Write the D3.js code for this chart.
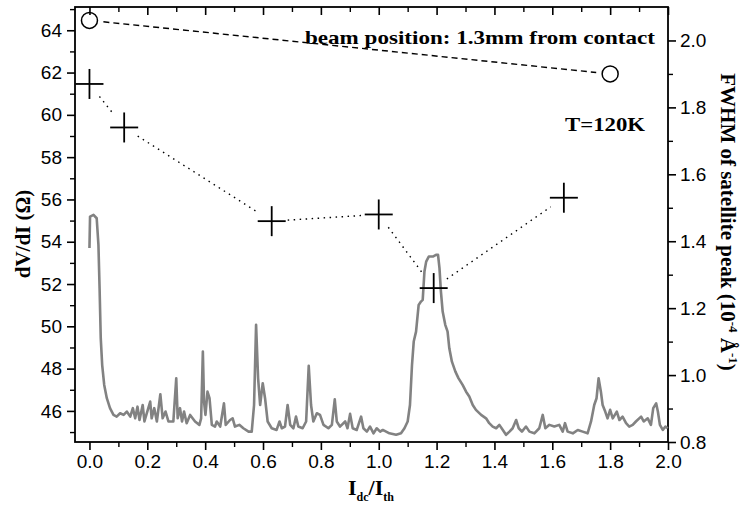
<!DOCTYPE html>
<html>
<head>
<meta charset="utf-8">
<script src="https://cdn.jsdelivr.net/npm/d3@7"></script>
<style>
  body { margin: 0; background: #fff; }
  svg { display: block; }
  .tick text { font-family: "Liberation Sans", Arial, sans-serif; font-size: 19px; fill: #000; }
  .title { font-family: "Liberation Serif", "Times New Roman", serif; font-weight: bold; fill: #000; }
</style>
</head>
<body>
<div id="chart"></div>
<script>
// dV/dI trace (Idc/Ith, ohm)
var traceX = [0.000, 0.002, 0.014, 0.025, 0.031, 0.035, 0.039, 0.044, 0.051, 0.060, 0.071, 0.083, 0.094,
  0.106, 0.118, 0.129, 0.141, 0.150, 0.158, 0.166, 0.173, 0.184, 0.190, 0.210, 0.215, 0.224, 0.233, 0.245,
  0.253, 0.263, 0.273, 0.290, 0.300, 0.305, 0.313, 0.320, 0.327, 0.336, 0.348, 0.365, 0.380, 0.386, 0.392,
  0.396, 0.401, 0.408, 0.415, 0.423, 0.434, 0.440, 0.452, 0.465, 0.471, 0.486, 0.495, 0.503, 0.518, 0.532,
  0.550, 0.561, 0.569, 0.576, 0.583, 0.590, 0.599, 0.607, 0.616, 0.630, 0.647, 0.657, 0.665, 0.676, 0.685,
  0.694, 0.705, 0.714, 0.722, 0.737, 0.749, 0.758, 0.766, 0.774, 0.786, 0.797, 0.809, 0.826, 0.838, 0.848,
  0.855, 0.866, 0.884, 0.892, 0.901, 0.910, 0.924, 0.939, 0.947, 0.959, 0.970, 0.982, 0.993, 1.005,
  1.014, 1.037, 1.060, 1.077, 1.089, 1.100, 1.108, 1.115, 1.121, 1.129, 1.138, 1.146, 1.152, 1.158, 1.164,
  1.173, 1.187, 1.198, 1.205, 1.210, 1.215, 1.221, 1.230, 1.238, 1.244, 1.253, 1.265, 1.276, 1.290, 1.302,
  1.313, 1.325, 1.336, 1.354, 1.371, 1.382, 1.394, 1.406, 1.417, 1.429, 1.440, 1.452, 1.463, 1.475, 1.484,
  1.495, 1.509, 1.521, 1.538, 1.555, 1.567, 1.576, 1.590, 1.607, 1.624, 1.636, 1.644, 1.653, 1.671, 1.688,
  1.705, 1.722, 1.734, 1.745, 1.753, 1.760, 1.768, 1.774, 1.783, 1.791, 1.800, 1.809, 1.823, 1.832, 1.843,
  1.855, 1.866, 1.878, 1.889, 1.907, 1.916, 1.930, 1.941, 1.949, 1.959, 1.965, 1.972, 1.982, 1.991, 1.999];
var traceY = [53.70, 55.19, 55.27, 55.11, 53.85, 51.80, 49.44, 48.17, 47.23, 46.60, 46.13, 45.81, 45.73,
  45.89, 45.81, 45.97, 45.73, 46.13, 45.65, 46.20, 45.57, 46.28, 45.50, 46.44, 45.65, 46.13, 45.50, 46.79,
  45.65, 45.97, 45.50, 45.50, 47.54, 45.65, 46.13, 45.50, 45.97, 45.42, 45.81, 45.50, 45.34, 45.65, 48.81,
  46.44, 45.81, 46.91, 46.60, 45.34, 45.26, 45.50, 45.26, 46.36, 45.34, 45.57, 45.65, 45.26, 45.34, 45.18,
  45.02, 45.02, 46.28, 50.07, 47.54, 46.28, 47.31, 46.60, 45.50, 45.18, 45.10, 45.50, 45.18, 45.26, 46.28,
  45.34, 45.18, 45.73, 45.26, 45.18, 45.50, 48.13, 46.28, 45.50, 45.89, 45.81, 45.34, 45.18, 45.34, 46.55,
  45.50, 45.26, 45.50, 45.18, 45.86, 45.18, 45.10, 45.73, 45.18, 45.02, 45.26, 44.94, 45.18, 45.02,
  45.10, 44.94, 44.87, 44.94, 45.18, 45.50, 46.28, 48.17, 49.28, 49.75, 51.01, 51.17, 51.25, 52.59, 53.06,
  53.30, 53.30, 53.38, 53.38, 52.75, 51.64, 50.70, 50.07, 49.75, 48.96, 48.33, 47.86, 47.54, 47.23, 46.91,
  46.68, 46.28, 46.05, 45.81, 45.65, 45.42, 45.26, 45.18, 45.34, 45.10, 44.87, 45.02, 45.18, 45.57, 45.18,
  45.02, 45.26, 45.02, 44.94, 45.18, 45.81, 45.18, 45.34, 45.26, 45.34, 45.02, 45.42, 45.02, 44.94, 45.10,
  45.02, 44.94, 45.50, 46.28, 46.60, 47.54, 46.91, 46.28, 45.97, 45.65, 46.05, 45.65, 45.97, 45.57, 45.73,
  45.42, 45.26, 45.34, 45.50, 45.73, 45.50, 45.65, 45.34, 46.13, 46.36, 45.97, 45.34, 45.10, 45.26, 45.18];

// FWHM of satellite peak (crosses, dotted)
var fwhmX = [0.0, 0.12, 0.63, 1.0, 1.19, 1.64];
var fwhmY = [1.87, 1.74, 1.46, 1.48, 1.26, 1.53];

// reference points (circles, dashed)
var refX = [0.0, 1.8];
var refY = [2.06, 1.90];

var xTicks = [0.0, 0.2, 0.4, 0.6, 0.8, 1.0, 1.2, 1.4, 1.6, 1.8, 2.0];
var leftTicks = [46, 48, 50, 52, 54, 56, 58, 60, 62, 64];
var rightTicks = [0.8, 1.0, 1.2, 1.4, 1.6, 1.8, 2.0];

// graph specs
var width = 746, height = 507;
var plot = {left: 75, right: 668, top: 7, bottom: 442};

var svg = d3.select("#chart").append("svg").attr("width", width).attr("height", height);

var x = d3.scaleLinear().domain([-0.05, 2.0]).range([plot.left, plot.right]);
var yl = d3.scaleLinear().domain([44.53, 65.1]).range([plot.bottom, plot.top]);
var yr = d3.scaleLinear().domain([0.8, 2.1]).range([plot.bottom, plot.top]);

// minor tick helper
function minors(lo, hi, step) {
    var out = [];
    for (var v = lo; v <= hi + 1e-9; v += step) out.push(+v.toFixed(3));
    return out;
}

function styleAxis(g, lw) {
    g.select(".domain").remove();
    g.selectAll(".tick line").attr("stroke", "#000").attr("stroke-width", lw);
}

// bottom axis
svg.append("g").attr("transform", "translate(0," + plot.bottom + ")")
    .call(d3.axisBottom(x).tickValues(xTicks).tickSize(8).tickPadding(5).tickFormat(d3.format(".1f")))
    .call(styleAxis, 1.6);
svg.append("g").attr("transform", "translate(0," + plot.bottom + ")")
    .call(d3.axisBottom(x).tickValues(minors(0.1, 1.9, 0.2)).tickSize(5).tickFormat(""))
    .call(styleAxis, 1.4);

// top axis (ticks inward)
svg.append("g").attr("transform", "translate(0," + plot.top + ")")
    .call(d3.axisBottom(x).tickValues(xTicks).tickSize(8).tickFormat(""))
    .call(styleAxis, 1.6);
svg.append("g").attr("transform", "translate(0," + plot.top + ")")
    .call(d3.axisBottom(x).tickValues(minors(0.1, 1.9, 0.2)).tickSize(5).tickFormat(""))
    .call(styleAxis, 1.4);

// left axis
svg.append("g").attr("transform", "translate(" + plot.left + ",0)")
    .call(d3.axisLeft(yl).tickValues(leftTicks).tickSize(8).tickPadding(5))
    .call(styleAxis, 1.6);
svg.append("g").attr("transform", "translate(" + plot.left + ",0)")
    .call(d3.axisLeft(yl).tickValues(minors(45, 65, 2)).tickSize(5).tickFormat(""))
    .call(styleAxis, 1.4);

// right axis
svg.append("g").attr("transform", "translate(" + plot.right + ",0)")
    .call(d3.axisRight(yr).tickValues(rightTicks).tickSize(8).tickPadding(4).tickFormat(d3.format(".1f")))
    .call(styleAxis, 1.6);
svg.append("g").attr("transform", "translate(" + plot.right + ",0)")
    .call(d3.axisRight(yr).tickValues(minors(0.9, 1.9, 0.2)).tickSize(5).tickFormat(""))
    .call(styleAxis, 1.4);

// frame
svg.append("rect")
    .attr("x", plot.left).attr("y", plot.top)
    .attr("width", plot.right - plot.left).attr("height", plot.bottom - plot.top)
    .attr("fill", "none").attr("stroke", "#000").attr("stroke-width", 1.8);

// dV/dI trace
var trace = traceX.map(function(d, i) { return [d, traceY[i]]; });
svg.append("path")
    .datum(trace)
    .attr("fill", "none")
    .attr("stroke", "#828282")
    .attr("stroke-width", 2.6)
    .attr("stroke-linejoin", "round")
    .attr("d", d3.line().x(function(d) { return x(d[0]); }).y(function(d) { return yl(d[1]); }));

// connecting segment, shortened so it stops short of the markers
function gapLine(xs, ys, gap, dash) {
    for (var i = 0; i < xs.length - 1; i++) {
        var x1 = x(xs[i]), y1 = yr(ys[i]), x2 = x(xs[i + 1]), y2 = yr(ys[i + 1]);
        var len = Math.hypot(x2 - x1, y2 - y1);
        var ux = (x2 - x1) / len, uy = (y2 - y1) / len;
        svg.append("line")
            .attr("x1", x1 + ux * gap).attr("y1", y1 + uy * gap)
            .attr("x2", x2 - ux * gap).attr("y2", y2 - uy * gap)
            .attr("stroke", "#000").attr("stroke-width", 1.4)
            .attr("stroke-dasharray", dash);
    }
}

gapLine(refX, refY, 14, "6,4");
gapLine(fwhmX, fwhmY, 16, "1.5,4.5");

// circles
svg.selectAll(".ref").data(refX).enter().append("circle")
    .attr("class", "ref")
    .attr("cx", function(d) { return x(d); })
    .attr("cy", function(d, i) { return yr(refY[i]); })
    .attr("r", 8)
    .attr("fill", "none").attr("stroke", "#000").attr("stroke-width", 1.5);

// crosses
var cross = svg.selectAll(".cross").data(fwhmX).enter().append("g")
    .attr("class", "cross")
    .attr("transform", function(d, i) { return "translate(" + x(d) + "," + yr(fwhmY[i]) + ")"; });
cross.append("line").attr("x1", -14).attr("x2", 14).attr("y1", 0).attr("y2", 0)
    .attr("stroke", "#000").attr("stroke-width", 1.8);
cross.append("line").attr("x1", 0).attr("x2", 0).attr("y1", -15).attr("y2", 15)
    .attr("stroke", "#000").attr("stroke-width", 1.8);

// annotations
svg.append("text").attr("class", "title")
    .attr("x", 305).attr("y", 44)
    .attr("textLength", 350).attr("lengthAdjust", "spacingAndGlyphs")
    .style("font-size", "19px")
    .text("beam position: 1.3mm from contact");
svg.append("text").attr("class", "title")
    .attr("x", 565).attr("y", 131)
    .attr("textLength", 80).attr("lengthAdjust", "spacingAndGlyphs")
    .style("font-size", "19px")
    .text("T=120K");

// left title
svg.append("text").attr("class", "title")
    .attr("transform", "translate(30,234) rotate(-90)")
    .attr("text-anchor", "middle")
    .style("font-size", "21px")
    .text("dV/dI (Ω)");

// right title
var rt = svg.append("text").attr("class", "title")
    .attr("transform", "translate(721,222) rotate(90)")
    .attr("text-anchor", "middle")
    .style("font-size", "21px");
rt.append("tspan").text("FWHM of satellite peak (10");
rt.append("tspan").attr("dy", -8).style("font-size", "13px").text("-4");
rt.append("tspan").attr("dy", 8).text(" Å");
rt.append("tspan").attr("dy", -8).style("font-size", "13px").text("-1");
rt.append("tspan").attr("dy", 8).text(")");

// x title
var xt = svg.append("text").attr("class", "title")
    .attr("x", 371).attr("y", 495).attr("text-anchor", "middle")
    .style("font-size", "22px");
xt.append("tspan").text("I");
xt.append("tspan").attr("dy", 6).style("font-size", "12px").text("dc");
xt.append("tspan").attr("dy", -6).text("/I");
xt.append("tspan").attr("dy", 6).style("font-size", "12px").text("th");
</script>
</body>
</html>
